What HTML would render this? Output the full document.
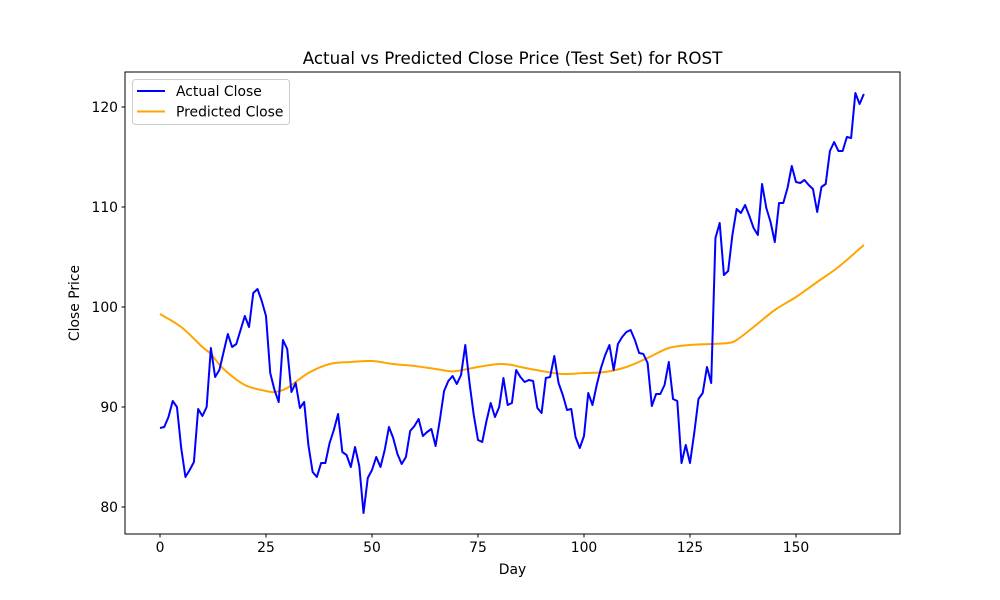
<!DOCTYPE html>
<html><head><meta charset="utf-8"><style>
body{margin:0;background:#fff;}
svg{display:block;font-family:"DejaVu Sans","Liberation Sans",sans-serif;}
</style></head><body>
<svg id="chart" width="1000" height="600" xmlns="http://www.w3.org/2000/svg">
<rect width="1000" height="600" fill="#fff"/>
<text x="512.5" y="64" font-size="16.7" text-anchor="middle">Actual vs Predicted Close Price (Test Set) for ROST</text>
<g id="grid"></g>
<g id="series"></g>
<rect x="125" y="72" width="775" height="462" fill="none" stroke="#000" stroke-width="1"/>
<g id="xticks"></g><g id="yticks"></g>
<text x="512.5" y="574" font-size="13.9" text-anchor="middle">Day</text>
<text transform="translate(79,303) rotate(-90)" font-size="13.9" text-anchor="middle">Close Price</text>
<g>
<rect x="132.5" y="79.5" width="157" height="45" rx="3" fill="#fff" fill-opacity="0.8" stroke="#ccc"/>
<line x1="137" y1="91" x2="165" y2="91" stroke="#0000ff" stroke-width="2"/>
<text x="176" y="96" font-size="13.9">Actual Close</text>
<line x1="137" y1="111.5" x2="165" y2="111.5" stroke="#ffa500" stroke-width="2"/>
<text x="176" y="116.5" font-size="13.9">Predicted Close</text>
</g>
</svg>
<script>
const actualClose=[87.9,88.0,89.0,90.6,90.0,85.9,83.0,83.7,84.5,89.8,89.1,90.0,95.9,93.0,93.7,95.5,97.3,96.0,96.3,97.7,99.1,98.0,101.4,101.8,100.6,99.1,93.4,91.7,90.5,96.7,95.8,91.5,92.4,89.9,90.5,86.2,83.5,83.0,84.4,84.4,86.4,87.7,89.3,85.5,85.2,84.0,86.0,84.1,79.4,82.9,83.7,85.0,84.0,85.7,88.0,86.9,85.3,84.3,85.0,87.6,88.1,88.8,87.1,87.5,87.8,86.1,88.7,91.6,92.6,93.1,92.3,93.2,96.2,92.4,89.2,86.7,86.5,88.6,90.4,89.0,90.0,92.9,90.2,90.4,93.7,93.0,92.5,92.7,92.6,89.9,89.4,92.9,93.0,95.1,92.4,91.2,89.7,89.8,87.0,85.9,87.1,91.4,90.2,92.2,93.9,95.2,96.2,93.7,96.3,97.0,97.5,97.7,96.7,95.4,95.3,94.4,90.1,91.3,91.3,92.2,94.5,90.8,90.6,84.4,86.2,84.4,87.4,90.8,91.4,94.0,92.4,106.9,108.4,103.2,103.6,107.2,109.8,109.4,110.2,109.1,107.9,107.2,112.3,109.9,108.5,106.5,110.4,110.4,111.9,114.1,112.5,112.4,112.7,112.2,111.8,109.5,112.0,112.3,115.6,116.5,115.6,115.6,117.0,116.9,121.4,120.3,121.3];
const predDays=[0,5,10,12,15,20,25,27,30,35,40,45,50,55,60,65,68,70,75,80,83,85,90,95,100,105,110,115,120,125,130,134,136,140,145,150,155,160,166];
const predClose=[99.3,98.0,96.0,95.3,93.8,92.2,91.6,91.5,91.9,93.4,94.3,94.5,94.6,94.3,94.1,93.8,93.6,93.6,94.0,94.3,94.2,94.0,93.6,93.3,93.4,93.5,94.0,94.9,95.9,96.2,96.3,96.4,96.7,98.0,99.7,101.0,102.5,104.0,106.2];
const xTicks=[0,25,50,75,100,125,150];
const yTicks=[80,90,100,110,120];
const NS="http://www.w3.org/2000/svg";
const X=d=>160+d*(636/150);
const Y=v=>507-(v-80)*10;
function mk(t,a,p){const e=document.createElementNS(NS,t);for(const k in a)e.setAttribute(k,a[k]);p.appendChild(e);return e;}
const xt=document.getElementById('xticks'),yt=document.getElementById('yticks'),ser=document.getElementById('series');
xTicks.forEach(t=>{
 const l=mk('line',{x1:X(t),x2:X(t),y1:534,y2:537.5,stroke:'#000'},xt);
 
 
 const s=mk('text',{x:X(t),y:552,'font-size':13.9,'text-anchor':'middle'},xt);s.textContent=t;
 
 
});
yTicks.forEach(t=>{
 const l=mk('line',{x1:121.5,x2:125,y1:Y(t),y2:Y(t),stroke:'#000'},yt);
 
 
 const s=mk('text',{x:118,y:Y(t)+5,'font-size':13.9,'text-anchor':'end'},yt);s.textContent=t;
 
 
});
const pp=predDays.map((d,i)=>[X(d),Y(predClose[i])]);
let dp='M'+pp[0][0]+','+pp[0][1];
for(let i=0;i<pp.length-1;i++){const p0=pp[Math.max(0,i-1)],p1=pp[i],p2=pp[i+1],p3=pp[Math.min(pp.length-1,i+2)];
 dp+=' C'+(p1[0]+(p2[0]-p0[0])/6)+','+(p1[1]+(p2[1]-p0[1])/6)+' '+(p2[0]-(p3[0]-p1[0])/6)+','+(p2[1]-(p3[1]-p1[1])/6)+' '+p2[0]+','+p2[1];}
const pl=mk('path',{d:dp,fill:'none',stroke:'#ffa500','stroke-width':2},ser);


const al=mk('polyline',{points:actualClose.map((v,i)=>X(i)+','+Y(v)).join(' '),fill:'none',stroke:'#0000ff','stroke-width':2,'stroke-linejoin':'round'},ser);


</script>
</body></html>
